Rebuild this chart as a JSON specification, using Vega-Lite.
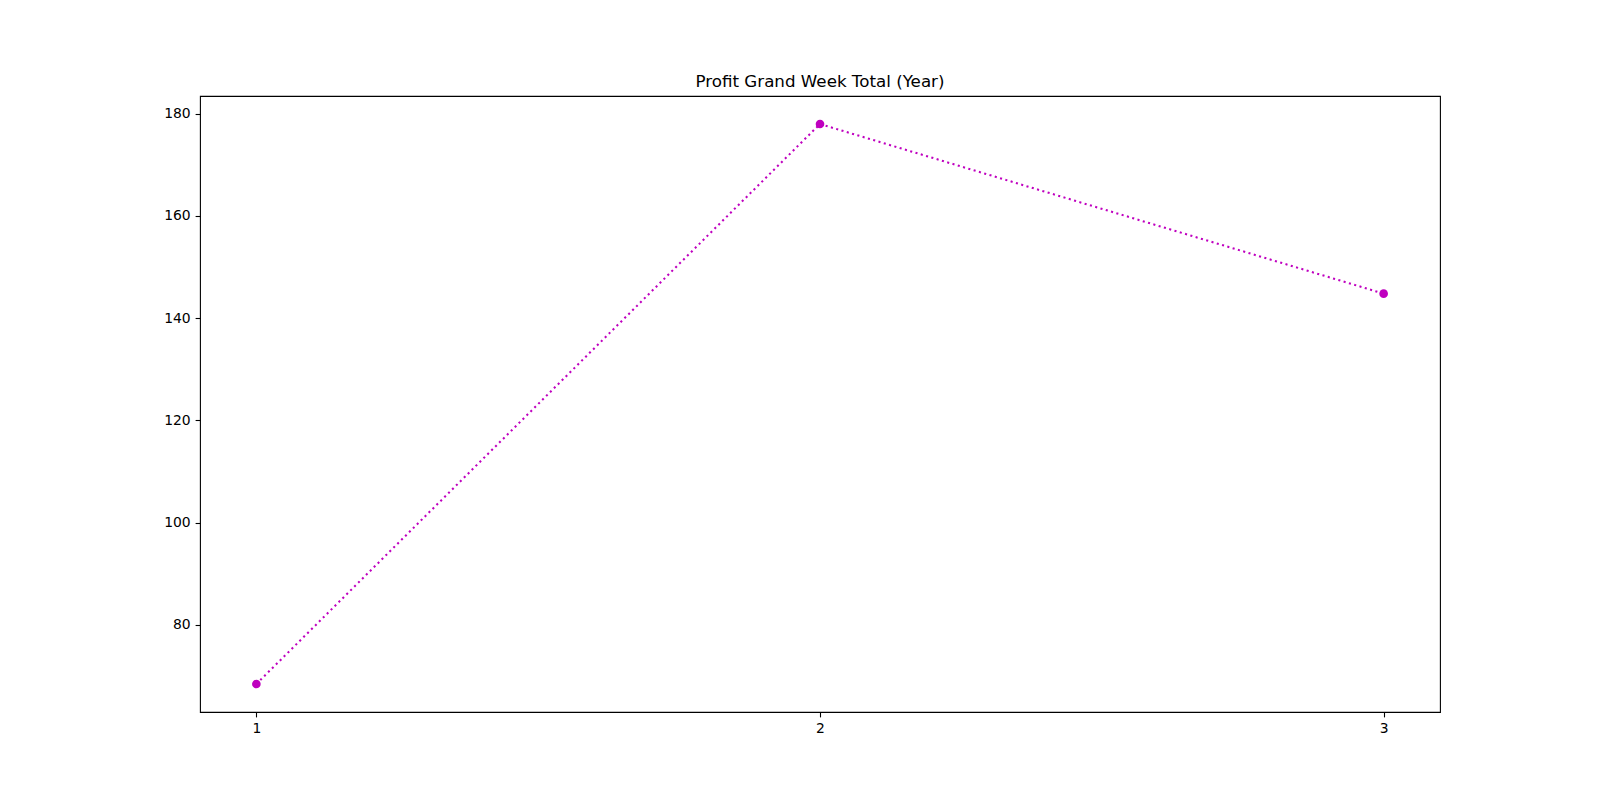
{
  "$schema": "https://vega.github.io/schema/vega-lite/v6.json",
  "autosize": {"type": "none"},
  "width": 1240,
  "height": 616,
  "padding": {"left": 200, "top": 96, "right": 160, "bottom": 88},
  "background": "white",
  "config": {
    "view": {"stroke": "black", "strokeWidth": 1.1},
    "font": "DejaVu Sans",
    "axis": {
      "grid": false,
      "domain": false,
      "tickColor": "black",
      "tickSize": 4.9,
      "tickWidth": 1.1,
      "labelFont": "DejaVu Sans",
      "labelFontSize": 13.9,
      "labelColor": "black",
      "labelPadding": 4.9,
      "title": null
    }
  },
  "title": {
    "text": "Profit Grand Week Total (Year)",
    "font": "DejaVu Sans",
    "fontSize": 16.7,
    "fontWeight": "normal",
    "color": "black",
    "anchor": "middle",
    "offset": 5
  },
  "data": {
    "values": [
      {"week": 1, "profit": 68.4},
      {"week": 2, "profit": 178.0},
      {"week": 3, "profit": 144.8}
    ]
  },
  "encoding": {
    "x": {
      "field": "week",
      "type": "quantitative",
      "scale": {"domain": [0.9, 3.1], "nice": false, "zero": false},
      "axis": {"values": [1, 2, 3], "format": "d"}
    },
    "y": {
      "field": "profit",
      "type": "quantitative",
      "scale": {"domain": [62.92, 183.48], "nice": false, "zero": false},
      "axis": {"values": [80, 100, 120, 140, 160, 180], "format": "d"}
    }
  },
  "layer": [
    {
      "mark": {
        "type": "line",
        "color": "#bf00bf",
        "strokeWidth": 2.08,
        "strokeDash": [2.08, 3.44],
        "strokeCap": "butt"
      }
    },
    {
      "mark": {
        "type": "point",
        "shape": "circle",
        "filled": true,
        "color": "#bf00bf",
        "opacity": 1,
        "size": 75
      }
    }
  ]
}
